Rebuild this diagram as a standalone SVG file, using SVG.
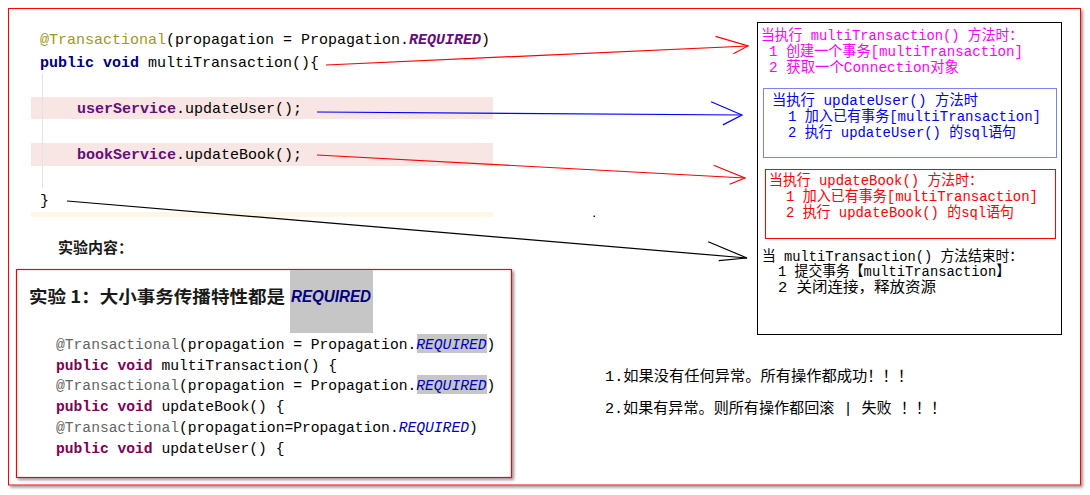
<svg xmlns="http://www.w3.org/2000/svg" width="1090" height="495" viewBox="0 0 1090 495">
<defs>
<style>
.mono{font-family:"Liberation Mono","DejaVu Sans Mono",monospace;}
.cjk{font-family:"Liberation Mono","Noto Sans CJK SC",monospace;font-size:14.5px;}
.top{font-size:15px;fill:#000;}
.bot{font-size:14.65px;fill:#000;}
.ann1{fill:#9a9a1e;}
.kw1{fill:#000080;font-weight:bold;}
.req1{fill:#660e7a;font-weight:bold;font-style:italic;}
.fld{fill:#660e7a;font-weight:bold;}
.ann2{fill:#646464;}
.kw2{fill:#7f0055;font-weight:bold;}
.req2{fill:#0000c0;font-style:italic;}
.hl{fill:#f7e6e3;}
.gray{fill:#c6c6c6;}
.box{fill:none;stroke-width:1;}
.line{fill:none;stroke-width:1.2;}
.note{font-family:"Liberation Mono","Noto Sans CJK SC",monospace;font-size:15px;fill:#000;}
.zh{font-family:"Noto Sans CJK SC","Noto Sans",sans-serif;font-weight:bold;fill:#1a1a1a;}
</style>
<filter id="shadow" x="-5%" y="-5%" width="110%" height="110%">
<feDropShadow dx="2" dy="2" stdDeviation="1.5" flood-color="#808080" flood-opacity="0.8"/>
</filter>
<marker id="ah-red" markerUnits="userSpaceOnUse" markerWidth="50" markerHeight="40" viewBox="-45 -20 50 40" refX="0" refY="0" orient="auto">
<path d="M-32,-11 L0,0 L-15,7" fill="none" stroke="#ff0000" stroke-width="1.2"/>
</marker>
<marker id="ah-blue" markerUnits="userSpaceOnUse" markerWidth="50" markerHeight="40" viewBox="-45 -20 50 40" refX="0" refY="0" orient="auto">
<path d="M-31,-13 L0,0 L-19,10" fill="none" stroke="#0000ff" stroke-width="1.2"/>
</marker>
<marker id="ah-black" markerUnits="userSpaceOnUse" markerWidth="50" markerHeight="40" viewBox="-45 -20 50 40" refX="0" refY="0" orient="auto">
<path d="M-40,-13 L0,0 L-28,5" fill="none" stroke="#000000" stroke-width="1.2"/>
</marker>
</defs>

<rect x="0" y="0" width="1090" height="495" fill="#ffffff"/>

<g id="frame">
<rect x="8.5" y="8.5" width="1072" height="476.5" fill="#ffffff" stroke="#ff0000" stroke-width="1" filter="url(#shadow)"/>
</g>

<g id="code-top">
<rect class="hl" x="31" y="97" width="462" height="22"/>
<rect class="hl" x="31" y="143" width="462" height="23"/>
<rect x="31" y="212" width="462" height="5" fill="#fdf8e6"/>
<line x1="42.5" y1="74" x2="42.5" y2="188" stroke="#e3e3e3" stroke-width="1"/>
<text class="mono top" x="40" y="44"><tspan class="ann1">@Transactional</tspan>(propagation = Propagation.<tspan class="req1">REQUIRED</tspan>)</text>
<text class="mono top" x="40" y="67"><tspan class="kw1">public void</tspan> multiTransaction(){</text>
<text class="mono top" x="77" y="113"><tspan class="fld">userService</tspan>.updateUser();</text>
<text class="mono top" x="77" y="159"><tspan class="fld">bookService</tspan>.updateBook();</text>
<text class="mono top" x="40" y="205">}</text>
</g>

<g id="note-multi">
<rect class="box" x="757.5" y="22.5" width="304" height="312" stroke="#000000"/>
<text class="cjk" fill="#ff00ff" x="761" y="40" textLength="262" lengthAdjust="spacingAndGlyphs">当执行 multiTransaction() 方法时：</text>
<text class="cjk" fill="#ff00ff" x="769" y="56" textLength="254" lengthAdjust="spacingAndGlyphs">1 创建一个事务[multiTransaction]</text>
<text class="cjk" fill="#ff00ff" x="769" y="72" textLength="190" lengthAdjust="spacingAndGlyphs">2 获取一个Connection对象</text>
</g>

<g id="note-user">
<rect class="box" x="763.5" y="88.5" width="293" height="69" stroke="#8080ff"/>
<text class="cjk" fill="#0000ff" x="772" y="105" textLength="206" lengthAdjust="spacingAndGlyphs">当执行 updateUser() 方法时</text>
<text class="cjk" fill="#0000ff" x="788" y="121" textLength="253" lengthAdjust="spacingAndGlyphs">1 加入已有事务[multiTransaction]</text>
<text class="cjk" fill="#0000ff" x="788" y="137" textLength="228" lengthAdjust="spacingAndGlyphs">2 执行 updateUser() 的sql语句</text>
</g>

<g id="note-book">
<rect class="box" x="765.5" y="169.5" width="290" height="69" stroke="#ff0000"/>
<text class="cjk" fill="#ff0000" x="769" y="185" textLength="214" lengthAdjust="spacingAndGlyphs">当执行 updateBook() 方法时：</text>
<text class="cjk" fill="#ff0000" x="786" y="201" textLength="252" lengthAdjust="spacingAndGlyphs">1 加入已有事务[multiTransaction]</text>
<text class="cjk" fill="#ff0000" x="786" y="217" textLength="228" lengthAdjust="spacingAndGlyphs">2 执行 updateBook() 的sql语句</text>
</g>

<g id="note-end">
<text class="cjk" fill="#000000" x="762" y="261" textLength="261" lengthAdjust="spacingAndGlyphs">当 multiTransaction() 方法结束时：</text>
<text class="cjk" fill="#000000" x="778" y="276" textLength="232" lengthAdjust="spacingAndGlyphs">1 提交事务【multiTransaction】</text>
<text class="cjk" fill="#000000" x="778" y="292" textLength="158" lengthAdjust="spacingAndGlyphs">2 关闭连接，释放资源</text>
</g>

<g id="connectors">
<path class="line" d="M326,65 L748,46" stroke="#ff0000" marker-end="url(#ah-red)"/>
<path class="line" d="M317,112 L742,115" stroke="#0000ff" marker-end="url(#ah-blue)"/>
<path class="line" d="M317,155 L745,178" stroke="#ff0000" marker-end="url(#ah-red)"/>
<path class="line" d="M67,201 L747,258" stroke="#000000" marker-end="url(#ah-black)"/>
</g>

<rect x="593.5" y="215.5" width="1.5" height="1.5" fill="#0000ff"/>

<g id="experiment">
<text class="zh" x="58" y="253" font-size="15">实验内容：</text>
<rect x="16.5" y="269.5" width="495" height="208" fill="#ffffff" stroke="#ff0000" stroke-width="1.2" filter="url(#shadow)"/>
<rect class="gray" x="290" y="270" width="83" height="63"/>
<text class="zh" x="29" y="303" font-size="17" textLength="256" lengthAdjust="spacingAndGlyphs">实验 1：大小事务传播特性都是</text>
<text x="291" y="302" font-family="Liberation Sans, Arial, sans-serif" font-size="16" font-weight="bold" font-style="italic" fill="#000080" textLength="80" lengthAdjust="spacingAndGlyphs">REQUIRED</text>
<rect class="gray" x="417" y="334" width="70" height="19"/>
<rect class="gray" x="417" y="375" width="70" height="19"/>
<text class="mono bot" x="56" y="349"><tspan class="ann2">@Transactional</tspan>(propagation = Propagation.<tspan class="req2">REQUIRED</tspan>)</text>
<text class="mono bot" x="56" y="370"><tspan class="kw2">public void</tspan> multiTransaction() {</text>
<text class="mono bot" x="56" y="390"><tspan class="ann2">@Transactional</tspan>(propagation = Propagation.<tspan class="req2">REQUIRED</tspan>)</text>
<text class="mono bot" x="56" y="411"><tspan class="kw2">public void</tspan> updateBook() {</text>
<text class="mono bot" x="56" y="432"><tspan class="ann2">@Transactional</tspan>(propagation=Propagation.<tspan class="req2">REQUIRED</tspan>)</text>
<text class="mono bot" x="56" y="453"><tspan class="kw2">public void</tspan> updateUser() {</text>
</g>

<g id="results">
<text class="note" x="605" y="381" textLength="308" lengthAdjust="spacingAndGlyphs">1.如果没有任何异常。所有操作都成功！！！</text>
<text class="note" x="605" y="413" textLength="341" lengthAdjust="spacingAndGlyphs">2.如果有异常。则所有操作都回滚 | 失败 ！！！</text>
</g>
</svg>
